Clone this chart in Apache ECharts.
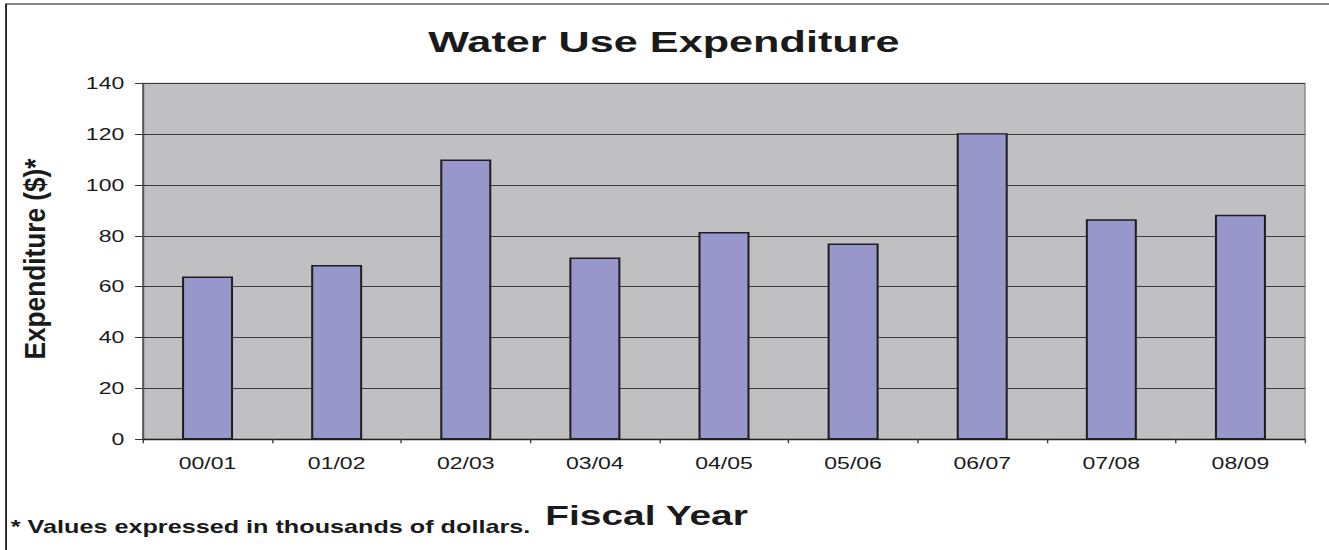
<!DOCTYPE html>
<html>
<head>
<meta charset="utf-8">
<script src="https://cdn.jsdelivr.net/npm/echarts@6/dist/echarts.min.js"></script>
<style>
  html, body { margin: 0; padding: 0; background: #fff; overflow: hidden; }
  /* chart is laid out narrower and widened horizontally, giving the stretched lettering */
  #chart {
    position: absolute; left: 0; top: 0;
    width: 923px; height: 550px;
    transform: scaleX(1.44); transform-origin: 0 0;
  }
</style>
</head>
<body>
<div id="chart"></div>
<script>
// Fiscal years and water use expenditure (thousands of dollars)
const fiscalYears = ['00/01', '01/02', '02/03', '03/04', '04/05', '05/06', '06/07', '07/08', '08/09'];
const expenditure = [64, 68.5, 110, 71.5, 81.5, 77, 120.4, 86.5, 88.3];
const yTicks = { min: 0, max: 140, interval: 20 };

const FONT = '"Liberation Sans", Arial, Helvetica, sans-serif';

const chart = echarts.init(document.getElementById('chart'), null, { renderer: 'svg' });

chart.setOption({
  animation: false,
  backgroundColor: '#ffffff',
  grid: {
    left: 99.3, right: 16.75, top: 83.3, bottom: 110.7,
    show: true,
    backgroundColor: '#c0c0c3',
    borderColor: '#8a8a8a',
    borderWidth: 1
  },
  xAxis: {
    type: 'category',
    data: fiscalYears,
    axisLine: { show: true, lineStyle: { color: '#222', width: 1.3 } },
    axisTick: { show: true, length: 4, lineStyle: { color: '#444' } },
    axisLabel: { color: '#1a1a1a', fontFamily: FONT, fontSize: 16, margin: 16 },
    splitLine: { show: false }
  },
  yAxis: {
    type: 'value',
    min: yTicks.min, max: yTicks.max, interval: yTicks.interval,
    axisLine: { show: true, lineStyle: { color: '#555', width: 1.3 } },
    axisTick: { show: true, length: 5.5, lineStyle: { color: '#333' } },
    axisLabel: { color: '#1a1a1a', fontFamily: FONT, fontSize: 16, margin: 13 },
    splitLine: { show: true, lineStyle: { color: '#3a3a3a', width: 1 } }
  },
  series: [{
    type: 'bar',
    data: expenditure,
    barWidth: '39.5%',
    itemStyle: { color: '#9797cb', borderColor: '#1e1e1e', borderWidth: 1.4 }
  }],
  graphic: [
    {
      type: 'rect', silent: true,
      shape: { x: 4.2, y: 4, width: 1000, height: 600 },
      style: { fill: 'none', stroke: '#111', lineWidth: 1.2 }
    },
    {
      type: 'text', x: 461, y: 41.3,
      style: { text: 'Water Use Expenditure', font: 'bold 30px ' + FONT, fill: '#1a1a1a', align: 'center', verticalAlign: 'middle' }
    },
    {
      type: 'text', x: 449, y: 515.6,
      style: { text: 'Fiscal Year', font: 'bold 27px ' + FONT, fill: '#1a1a1a', align: 'center', verticalAlign: 'middle' }
    },
    {
      type: 'text', x: 7.5, y: 527,
      style: { text: '* Values expressed in thousands of dollars.', font: 'bold 17.5px ' + FONT, fill: '#1a1a1a', align: 'left', verticalAlign: 'middle' }
    },
    {
      type: 'text', x: 24.5, y: 259, rotation: Math.PI / 2, scaleX: 1.28,
      style: { text: 'Expenditure ($)*', font: 'bold 20.5px ' + FONT, fill: '#1a1a1a', align: 'center', verticalAlign: 'middle' }
    }
  ]
});
</script>
</body>
</html>
